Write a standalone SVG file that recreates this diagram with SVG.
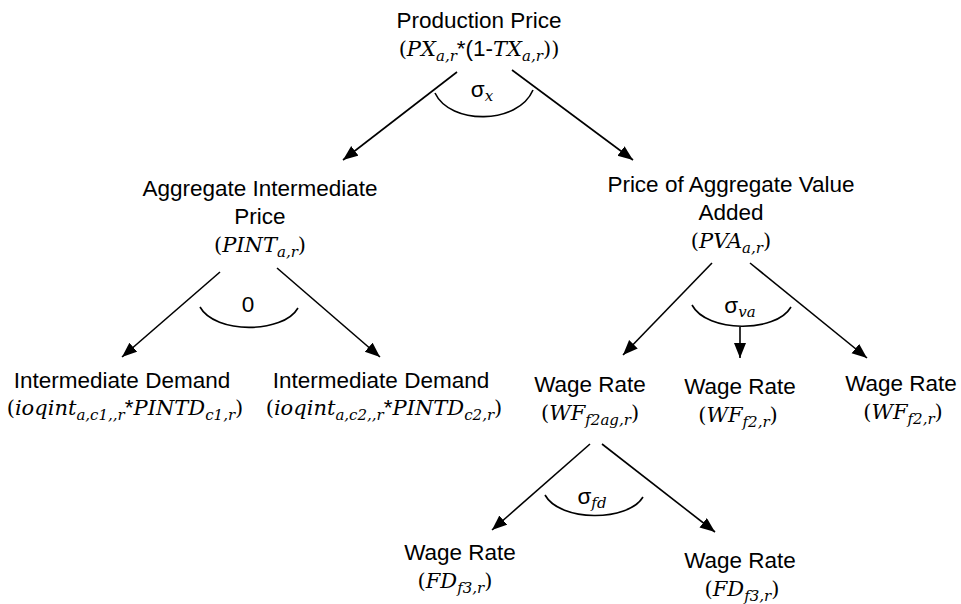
<svg xmlns="http://www.w3.org/2000/svg" width="961" height="604" viewBox="0 0 961 604">
<defs>
<marker id="ah" markerUnits="userSpaceOnUse" markerWidth="16" markerHeight="14" refX="15" refY="6" orient="auto">
<path d="M0,0 L15,6 L0,12 Z" fill="#000"/>
</marker>
<style>
.t{font-family:"Liberation Sans",Arial,sans-serif;font-size:22.5px;fill:#000;text-anchor:middle}
.m{font-family:"DejaVu Serif","Liberation Serif",serif;font-size:21px;fill:#000;text-anchor:middle}
.i{font-style:italic}
.s{font-family:"DejaVu Serif","Liberation Serif",serif;font-style:italic;font-size:15px}
.a{font-family:"Liberation Sans",Arial,sans-serif;font-size:22.5px}
.c{fill:none;stroke:#000;stroke-width:1.6}
.e{fill:none;stroke:#000;stroke-width:1.6;marker-end:url(#ah)}
</style>
</defs>
<rect width="961" height="604" fill="#fff"/>
<g id="connectors">
<line class="e" x1="457" y1="72" x2="343" y2="160"/>
<line class="e" x1="512" y1="70" x2="633" y2="160"/>
<line class="e" x1="220" y1="272" x2="122" y2="357"/>
<line class="e" x1="277" y1="268" x2="380" y2="357"/>
<line class="e" x1="712" y1="263" x2="623" y2="355"/>
<line class="e" x1="750" y1="263" x2="867" y2="358"/>
<line class="e" x1="740" y1="327" x2="740" y2="358"/>
<line class="e" x1="590" y1="444" x2="492" y2="530"/>
<line class="e" x1="602" y1="444" x2="715" y2="532"/>
<path class="c" d="M435,93 C450,125 518,125 533,90"/>
<path class="c" d="M200,307 C215,334 283,334 298,308"/>
<path class="c" d="M692,305 C707,333 776,333 791,307"/>
<path class="c" d="M545,495 C560,522 628,522 643,497"/>
<text class="t" x="482" y="97">σ<tspan class="s" dy="4">x</tspan></text>
<text class="t" x="248" y="312">0</text>
<text class="t" x="740" y="313">σ<tspan class="s" dy="4">va</tspan></text>
<text class="t" x="592" y="504">σ<tspan class="s" dy="4">fd</tspan></text>
</g>
<g id="production-price">
<text class="t" x="479" y="28">Production Price</text>
<text class="m" x="479" y="56">(<tspan class="i">PX</tspan><tspan class="s" dy="5">a,r</tspan><tspan class="a" dy="-5">*(1-</tspan><tspan class="i">TX</tspan><tspan class="s" dy="5">a,r</tspan><tspan dy="-5">))</tspan></text>
</g>
<g id="aggregate-intermediate-price">
<text class="t" x="260" y="196">Aggregate Intermediate</text>
<text class="t" x="260" y="224">Price</text>
<text class="m" x="260" y="252">(<tspan class="i">PINT</tspan><tspan class="s" dy="5">a,r</tspan><tspan dy="-5">)</tspan></text>
</g>
<g id="price-aggregate-value-added">
<text class="t" x="731" y="192">Price of Aggregate Value</text>
<text class="t" x="731" y="220">Added</text>
<text class="m" x="731" y="248">(<tspan class="i">PVA</tspan><tspan class="s" dy="5">a,r</tspan><tspan dy="-5">)</tspan></text>
</g>
<g id="intermediate-demand-1">
<text class="t" x="122" y="388">Intermediate Demand</text>
<text class="m" x="125" y="415">(<tspan class="i">ioqint</tspan><tspan class="s" dy="5">a,c1,,r</tspan><tspan class="a" dy="-5">*</tspan><tspan class="i">PINTD</tspan><tspan class="s" dy="5">c1,r</tspan><tspan dy="-5">)</tspan></text>
</g>
<g id="intermediate-demand-2">
<text class="t" x="381" y="388">Intermediate Demand</text>
<text class="m" x="384" y="415">(<tspan class="i">ioqint</tspan><tspan class="s" dy="5">a,c2,,r</tspan><tspan class="a" dy="-5">*</tspan><tspan class="i">PINTD</tspan><tspan class="s" dy="5">c2,r</tspan><tspan dy="-5">)</tspan></text>
</g>
<g id="wage-rate-f2ag">
<text class="t" x="590" y="392">Wage Rate</text>
<text class="m" x="590" y="420">(<tspan class="i">WF</tspan><tspan class="s" dy="5">f2ag,r</tspan><tspan dy="-5">)</tspan></text>
</g>
<g id="wage-rate-f2-mid">
<text class="t" x="740" y="394">Wage Rate</text>
<text class="m" x="738" y="422">(<tspan class="i">WF</tspan><tspan class="s" dy="5">f2,r</tspan><tspan dy="-5">)</tspan></text>
</g>
<g id="wage-rate-f2-right">
<text class="t" x="901" y="391">Wage Rate</text>
<text class="m" x="903" y="419">(<tspan class="i">WF</tspan><tspan class="s" dy="5">f2,r</tspan><tspan dy="-5">)</tspan></text>
</g>
<g id="wage-rate-fd-left">
<text class="t" x="460" y="560">Wage Rate</text>
<text class="m" x="455" y="588">(<tspan class="i">FD</tspan><tspan class="s" dy="5">f3,r</tspan><tspan dy="-5">)</tspan></text>
</g>
<g id="wage-rate-fd-right">
<text class="t" x="740" y="568">Wage Rate</text>
<text class="m" x="742" y="596">(<tspan class="i">FD</tspan><tspan class="s" dy="5">f3,r</tspan><tspan dy="-5">)</tspan></text>
</g>
</svg>
